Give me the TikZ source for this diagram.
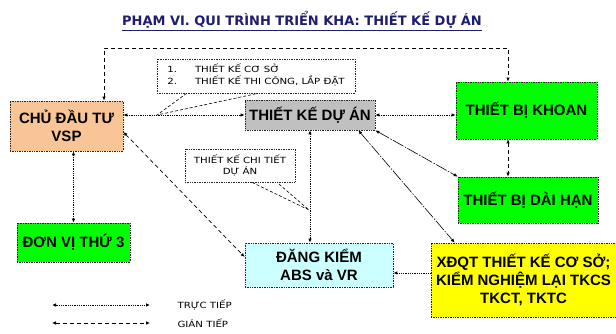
\documentclass[tikz,border=0pt]{standalone}
\usepackage{fontspec}
\setmainfont{Liberation Sans}
\newfontfamily\notefont[FakeStretch=1.2]{DejaVu Sans}
\newfontfamily\titlefont{DejaVu Sans}
\usepackage{tikz}
\usetikzlibrary{arrows.meta}

\definecolor{chuOrange}{RGB}{250,197,150}
\definecolor{tkGray}{RGB}{192,192,192}
\definecolor{tbGreen}{RGB}{0,255,0}
\definecolor{dkCyan}{RGB}{204,255,255}
\definecolor{xdYellow}{RGB}{255,255,0}
\definecolor{titleBlue}{RGB}{30,30,110}

\begin{document}
\begin{tikzpicture}[x=1pt, y=-1pt, >={Latex[length=4pt,width=3.5pt]},
    box/.style={draw=black!85, densely dotted, line width=0.7pt, align=center, inner sep=1pt,
        font=\fontsize{15}{18}\selectfont\bfseries},
    note/.style={draw=black!85, densely dotted, line width=0.7pt, fill=white, align=center,
        inner sep=2pt, font=\notefont\fontsize{8.5}{10.5}\selectfont},
    direct/.style={densely dotted, line width=0.8pt, <->},
    indirect/.style={dash pattern=on 4pt off 3pt, line width=0.7pt, <->},
    mixed/.style={dash pattern=on 12pt off 1.5pt on 1.5pt off 1.5pt, line width=0.6pt, <->},
    callout/.style={densely dashed, line width=0.6pt}]
    \useasboundingbox (0, 0) rectangle (616, 334);

    \node[font=\titlefont\fontsize{13}{15}\selectfont\bfseries, text=titleBlue] at (302, 21) (title) {\underline{PHẠM VI. QUI TRÌNH TRIỂN KHA: THIẾT KẾ DỰ ÁN}};

    \node[box, fill=chuOrange, minimum width=113, minimum height=50] at (66.5, 126) (chudautu) {CHỦ ĐẦU TƯ\\VSP};
    \node[box, fill=tkGray, minimum width=130, minimum height=30] at (310, 115) (thietke) {THIẾT KẾ DỰ ÁN};
    \node[box, fill=tbGreen, minimum width=141, minimum height=57] at (526.5, 110.5) (khoan) {THIẾT BỊ KHOAN};
    \node[box, fill=tbGreen, minimum width=140, minimum height=46] at (528, 200) (daihan) {THIẾT BỊ DÀI HẠN};
    \node[box, fill=xdYellow, minimum width=185, minimum height=74] at (523.5, 280) (xdqt) {XĐQT THIẾT KẾ CƠ SỞ;\\KIỂM NGHIỆM LẠI TKCS\\TKCT, TKTC};
    \node[box, fill=dkCyan, minimum width=148, minimum height=44] at (319, 265) (dangkiem) {ĐĂNG KIỂM\\ABS và VR};
    \node[box, fill=tbGreen, minimum width=113, minimum height=39] at (73.5, 242.5) (donvi) {ĐƠN VỊ THỨ 3};

    \node[note, minimum width=198, minimum height=34] at (256, 76) (note1) {\begin{tabular}{@{}l@{\hspace{18pt}}l@{}}1. & THIẾT KẾ CƠ SỞ\\ 2. & THIẾT KẾ THI CÔNG, LẮP ĐẶT\end{tabular}};
    \node[note, minimum width=110, minimum height=33] at (240, 165.5) (note2) {THIẾT KẾ CHI TIẾT\\DỰ ÁN};

    \coordinate (loopL) at (104, 48);
    \coordinate (loopR) at (508, 48);
    \coordinate (call1) at (157, 115);
    \coordinate (call2) at (309, 210);

    % truc tiep
    \draw[direct] (chudautu.east |- thietke.west) -- (thietke.west);
    \draw[direct] (thietke.east) -- (thietke.east -| khoan.west);
    \draw[direct] (donvi.north |- chudautu.south) -- (donvi.north);
    \draw[direct] (thietke.south) -- (thietke.south |- dangkiem.north);
    \draw[densely dotted, line width=0.8pt, ->] ([yshift=-8pt]dangkiem.east -| xdqt.west) -- ([yshift=-8pt]dangkiem.east);

    % gian tiep
    \draw[indirect] (chudautu.north -| loopL) -- (loopL) -- (loopR) -- (khoan.north -| loopR);
    \draw[indirect] (khoan.south -| loopR) -- (daihan.north -| loopR);
    \draw[indirect] ([yshift=-6pt]chudautu.east) -- ([yshift=8pt]dangkiem.west);

    \draw[mixed] (thietke.south east) -- (daihan.north west);
    \draw[mixed] ([xshift=-17pt]thietke.south east) -- ([xshift=24pt]xdqt.north west);

    % ghi chu
    \draw[callout] ([xshift=30pt]note1.south west) -- (call1) -- ([xshift=2pt]note1.south);
    \draw[callout] ([xshift=12pt]note2.south) -- (call2) -- ([xshift=37pt]note2.south);

    % chu thich
    \coordinate (leg1a) at (52, 305);
    \coordinate (leg1b) at (150, 305);
    \coordinate (leg2a) at (52, 323);
    \coordinate (leg2b) at (150, 323);
    \draw[direct] (leg1a) -- (leg1b);
    \draw[indirect] (leg2a) -- (leg2b);
    \node[anchor=west, font=\notefont\fontsize{8.5}{10.5}\selectfont] at (174, 305) (truc) {TRỰC TIẾP};
    \node[anchor=west, font=\notefont\fontsize{8.5}{10.5}\selectfont] at (174, 323) (gian) {GIÁN TIẾP};
\end{tikzpicture}
\end{document}
